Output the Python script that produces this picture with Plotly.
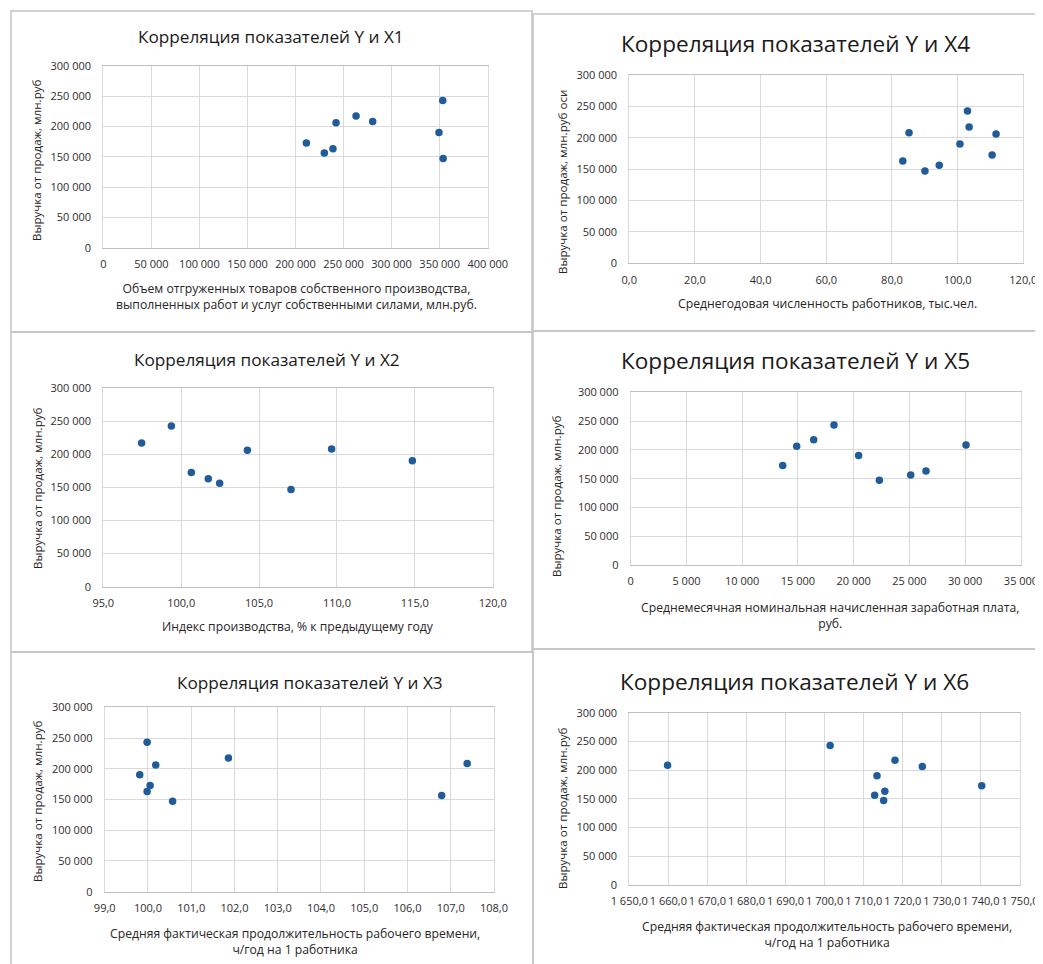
import plotly.graph_objects as go

# The page places the figure 8px from the top-left corner (default body margin),
# so the figure is made 8px smaller and every page position is shifted by 8px.
OFF = 8
W, H = 1043 - OFF, 964 - OFF

# ---- data ----
revenue = [243000, 217400, 208400, 206200, 190300, 172800, 163200, 156400, 147100]
x1_shipped = [353200, 263000, 280300, 242200, 349300, 211300, 239000, 230000, 353600]
x2_prod_index = [99.37, 97.46, 109.66, 104.25, 114.84, 100.65, 101.74, 102.47, 107.05]
x3_work_time = [99.98, 101.86, 107.38, 100.18, 99.81, 100.05, 99.98, 106.79, 100.57]
x4_employees = [103.0, 103.5, 85.2, 111.7, 100.7, 110.5, 83.3, 94.4, 90.05]
x5_salary = [18230, 16410, 30070, 14885, 20440, 13630, 26480, 25110, 22300]
x6_work_time = [1701.4, 1718.0, 1659.8, 1725.0, 1713.4, 1740.2, 1715.4, 1712.8, 1715.1]

titles = ["Корреляция показателей Y и X1", "Корреляция показателей Y и X4",
          "Корреляция показателей Y и X2", "Корреляция показателей Y и X5",
          "Корреляция показателей Y и X3", "Корреляция показателей Y и X6"]
y_titles = ["Выручка от продаж, млн.руб", "Выручка от продаж, млн.руб оси",
            "Выручка от продаж, млн.руб", "Выручка от продаж, млн.руб",
            "Выручка от продаж, млн.руб", "Выручка от продаж, млн.руб"]
x_titles = ["Объем отгруженных товаров собственного производства,<br>выполненных работ и услуг собственными силами, млн.руб.",
            "Среднегодовая численность работников, тыс.чел.",
            "Индекс производства, % к предыдущему году",
            "Среднемесячная номинальная начисленная заработная плата,<br>руб.",
            "Средняя фактическая продолжительность рабочего времени,<br>ч/год на 1 работника",
            "Средняя фактическая продолжительность рабочего времени,<br>ч/год на 1 работника"]
x_series = [x1_shipped, x4_employees, x2_prod_index, x5_salary, x3_work_time, x6_work_time]
x_ranges = [[0, 400000], [0, 120], [95, 120], [0, 35000], [99, 108], [1650, 1750]]
x_dticks = [50000, 20, 5, 5000, 1, 10]
x_formats = [",d", ".1f", ".1f", ",d", ".1f", ",.1f"]
y_range = [0, 300000]
y_dtick = 50000

# ---- layout geometry (page pixels) ----
# plot area: left, right, top, bottom
plot_boxes = [(103.3, 487.7, 66, 247.7), (629.3, 1023.3, 75.3, 263.3),
              (103.3, 492.7, 388.3, 586.7), (630.7, 1021, 392.3, 565),
              (104.7, 494, 707.3, 891.7), (629.3, 1020, 712.7, 885)]
title_pos = [(271, 36), (795, 43), (267, 359), (795, 360), (310, 682), (794, 681)]
title_size = [17.2, 22.6, 17.2, 22.6, 17.2, 22.6]
ytitle_pos = [(37, 160), (562, 182), (37, 488), (556, 496), (37, 801), (562, 808)]
xtitle_pos = [(296, 296.5), (827, 303), (298, 626), (830, 615), (295, 941), (827, 934.5)]
frames = [(11, 11, 532, 332), (533, 14, 1046, 331), (11, 332, 532, 652),
          (533, 331, 1046, 649), (11, 652, 533, 970), (533, 649, 1046, 970)]


def px(x):
    return (x - OFF) / W


def py(y):
    return 1 - (y - OFF) / H


FONT = "Open Sans"
TICK_COLOR = "#2e2e2e"
GRID = "#d9d9d9"
MARKER = "#1F5C99"

fig = go.Figure()
layout = dict(width=W, height=H, margin=dict(l=0, r=0, t=0, b=0, pad=0, autoexpand=False),
              paper_bgcolor="white", plot_bgcolor="white", showlegend=False,
              separators=", ", font=dict(family=FONT, color=TICK_COLOR, size=11))
annotations = []
shapes = []

for i in range(6):
    n = "" if i == 0 else str(i + 1)
    xa, ya = "x" + n, "y" + n
    fig.add_trace(go.Scatter(x=x_series[i], y=revenue, mode="markers", xaxis=xa, yaxis=ya,
                             marker=dict(color=MARKER, size=7.5), hoverinfo="x+y"))
    l, r, t, b = plot_boxes[i]
    layout["xaxis" + n] = dict(domain=[px(l), px(r)], anchor=ya, range=x_ranges[i],
                               dtick=x_dticks[i], tick0=x_ranges[i][0], tickformat=x_formats[i],
                               showgrid=True, gridcolor=GRID, gridwidth=1, automargin=False,
                               showline=True, linecolor="#bfbfbf", linewidth=1, mirror=True,
                               zeroline=False, ticks="", tickangle=0, ticklabelstandoff=6,
                               tickfont=dict(family=FONT, size=11, color=TICK_COLOR), fixedrange=True)
    layout["yaxis" + n] = dict(domain=[py(b), py(t)], anchor=xa, range=y_range,
                               dtick=y_dtick, tickformat=",d", automargin=False,
                               showgrid=True, gridcolor=GRID, gridwidth=1,
                               showline=True, linecolor=GRID, linewidth=1, mirror=True,
                               zeroline=False, ticks="", ticklabelstandoff=9,
                               tickfont=dict(family=FONT, size=11, color=TICK_COLOR), fixedrange=True)
    tx, ty = title_pos[i]
    annotations.append(dict(text=titles[i], x=px(tx), y=py(ty), xref="paper", yref="paper",
                            showarrow=False, xanchor="center", yanchor="middle",
                            font=dict(family=FONT, size=title_size[i], color="#1a1a1a")))
    yx, yy = ytitle_pos[i]
    annotations.append(dict(text=y_titles[i], x=px(yx), y=py(yy), xref="paper", yref="paper",
                            showarrow=False, xanchor="center", yanchor="middle", textangle=-90,
                            font=dict(family=FONT, size=11.6, color="#262626")))
    xx, xy = xtitle_pos[i]
    annotations.append(dict(text=x_titles[i], x=px(xx), y=py(xy), xref="paper", yref="paper",
                            showarrow=False, xanchor="center", yanchor="middle", align="center",
                            font=dict(family=FONT, size=12.2, color="#262626")))
    fx0, fy0, fx1, fy1 = frames[i]
    shapes.append(dict(type="rect", xref="paper", yref="paper",
                       x0=px(fx0), x1=px(fx1), y0=py(fy1), y1=py(fy0),
                       line=dict(color="#c4c4c4", width=1.5), fillcolor="rgba(0,0,0,0)", layer="below"))

layout["annotations"] = annotations
layout["shapes"] = shapes
fig.update_layout(**layout)
fig.write_html("out.html", config={"displayModeBar": False})
